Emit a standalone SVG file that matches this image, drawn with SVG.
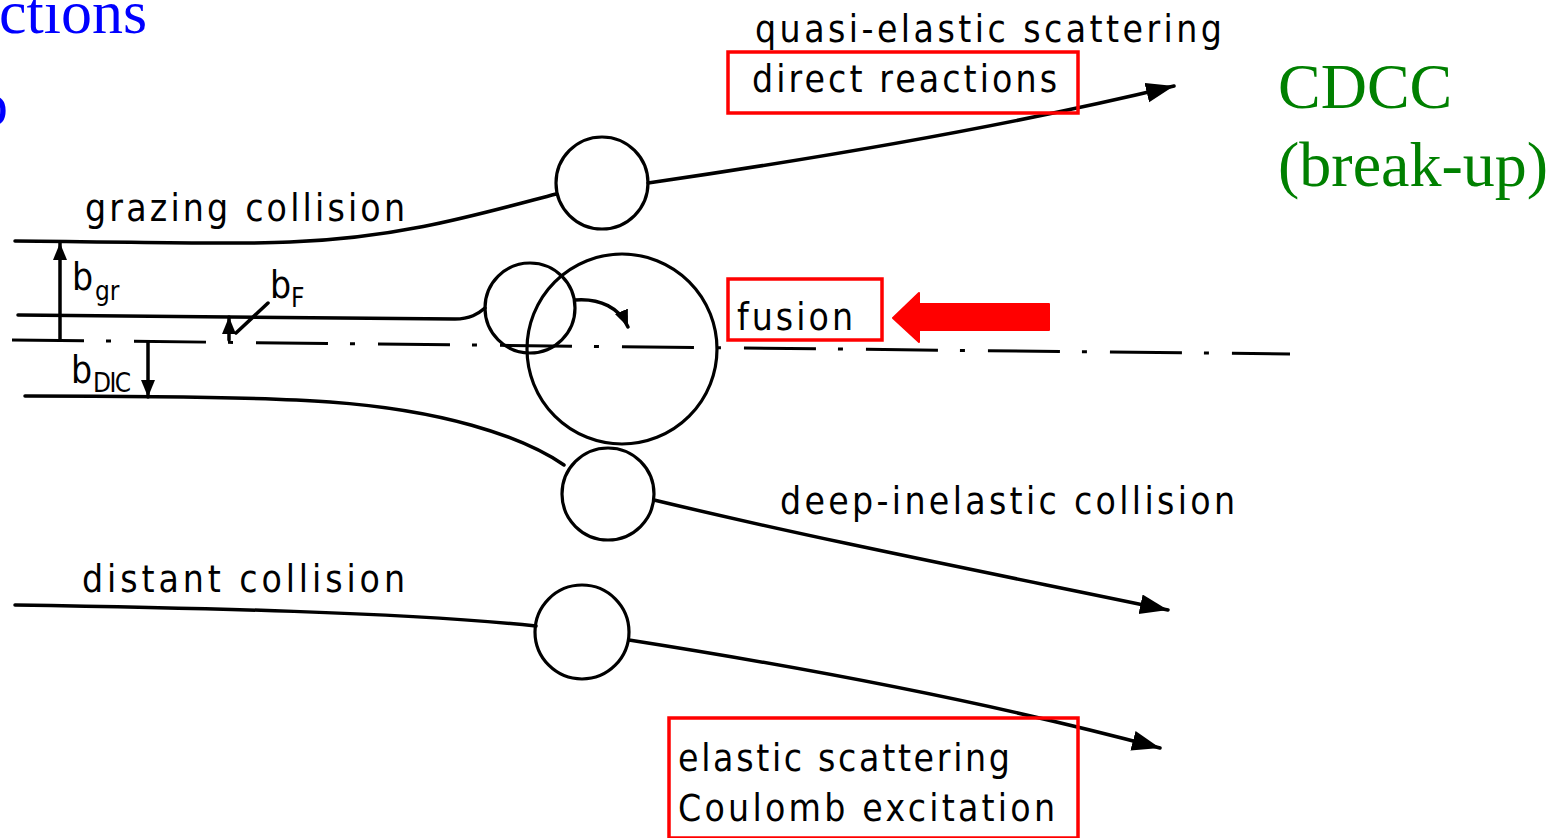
<svg xmlns="http://www.w3.org/2000/svg" width="1560" height="838" viewBox="0 0 1560 838">
<style>
.t{font-family:"DejaVu Sans Condensed","DejaVu Sans","Liberation Sans",sans-serif;font-stretch:condensed;font-size:37px;fill:#000;}
.s{font-family:"DejaVu Sans Condensed","DejaVu Sans","Liberation Sans",sans-serif;font-stretch:condensed;font-size:26px;fill:#000;}
.ln{fill:none;stroke:#000;stroke-width:3.5;stroke-linecap:round;}
.nuc{fill:none;stroke:#000;stroke-width:3.2;}
.box{fill:none;stroke:#ff0000;stroke-width:3.5;}
.blue{font-family:"Liberation Serif","Times New Roman",serif;font-size:62px;fill:#0000ff;}
.green{font-family:"Liberation Serif","Times New Roman",serif;font-size:64px;fill:#008000;}
</style>
<defs>
<marker id="ah" markerUnits="userSpaceOnUse" markerWidth="32" markerHeight="22" refX="28" refY="10" orient="auto">
<path d="M0,0 L28,10 L0,20 Z" fill="#000"/>
</marker>
<marker id="ahs" markerUnits="userSpaceOnUse" markerWidth="22" markerHeight="16" refX="17" refY="7" orient="auto">
<path d="M0,0 L17,7 L0,14 Z" fill="#000"/>
</marker>
</defs>
<rect width="1560" height="838" fill="#fff"/>
<text class="blue" x="-1" y="33">ctions</text>
<text class="blue" x="-23" y="125">o</text>
<text class="green" x="1278" y="108">CDCC</text>
<text class="green" x="1278" y="186">(break-up)</text>

<g id="connectors">
<path class="ln" d="M15,241 C150,242 230,245 290,242 C400,238 480,214 556,194"/>
<path class="ln" d="M648,183 C820,158 1000,128 1174,86" marker-end="url(#ah)"/>
<path class="ln" d="M18,315 L455,319 C470,319 478,314 485,308"/>
<path class="ln" d="M25,396 C150,396 260,397 330,402 C440,410 520,435 564,465"/>
<path class="ln" d="M654,500 C820,540 1000,575 1168,610" marker-end="url(#ah)"/>
<path class="ln" d="M15,605 C200,608 400,612 536,626"/>
<path class="ln" d="M629,640 C820,670 1000,705 1160,748" marker-end="url(#ah)"/>
<path class="ln" d="M575,300 C600,298 620,308 628,327" marker-end="url(#ahs)"/>
<path fill="none" stroke="#000" stroke-width="3" stroke-dasharray="72 22 5 23" d="M12,340 L1290,354"/>
<path class="ln" d="M60,340 L60,243" marker-end="url(#ahs)"/>
<path class="ln" d="M229,340 L229,317" marker-end="url(#ahs)"/>
<path class="ln" stroke-width="2" d="M236,333 L268,303"/>
<path class="ln" d="M148,342 L148,397" marker-end="url(#ahs)"/>
<path d="M893,318 L919,293 L919,304 L1049,304 L1049,330 L919,330 L919,342 Z" fill="#ff0000" stroke="#ff0000" stroke-width="2" stroke-linejoin="round"/>
</g>

<g id="nucleus-grazing"><circle class="nuc" cx="602" cy="183" r="46"/></g>
<g id="nucleus-fusion-projectile"><circle class="nuc" cx="530" cy="308" r="45"/></g>
<g id="nucleus-target"><circle class="nuc" cx="622" cy="349" r="95"/></g>
<g id="nucleus-dic"><circle class="nuc" cx="608" cy="494" r="46"/></g>
<g id="nucleus-distant"><circle class="nuc" cx="582" cy="632" r="47"/></g>

<g id="label-quasi"><text class="t" x="755" y="42" textLength="467">quasi-elastic scattering</text></g>
<g id="label-direct">
<rect class="box" x="728" y="52" width="350" height="61"/>
<text class="t" x="752" y="92" textLength="305">direct reactions</text>
</g>
<g id="label-grazing"><text class="t" x="85" y="221" textLength="320">grazing collision</text></g>
<g id="label-fusion">
<rect class="box" x="728" y="279" width="154" height="61"/>
<text class="t" x="737" y="330" textLength="116">fusion</text>
</g>
<g id="label-dic"><text class="t" x="780" y="514" textLength="455">deep-inelastic collision</text></g>
<g id="label-distant"><text class="t" x="82" y="592" textLength="323">distant collision</text></g>
<g id="label-elastic">
<rect class="box" x="669" y="718" width="409" height="120"/>
<text class="t" x="678" y="771" textLength="332">elastic scattering</text>
<text class="t" x="678" y="821" textLength="377">Coulomb excitation</text>
</g>
<g id="label-bgr"><text class="t" x="72" y="290">b</text><text class="s" x="95" y="300">gr</text></g>
<g id="label-bF"><text class="t" x="270" y="298">b</text><text class="s" x="291" y="307">F</text></g>
<g id="label-bDIC"><text class="t" x="71" y="383">b</text><text class="s" x="93" y="392" textLength="38">DIC</text></g>
</svg>
